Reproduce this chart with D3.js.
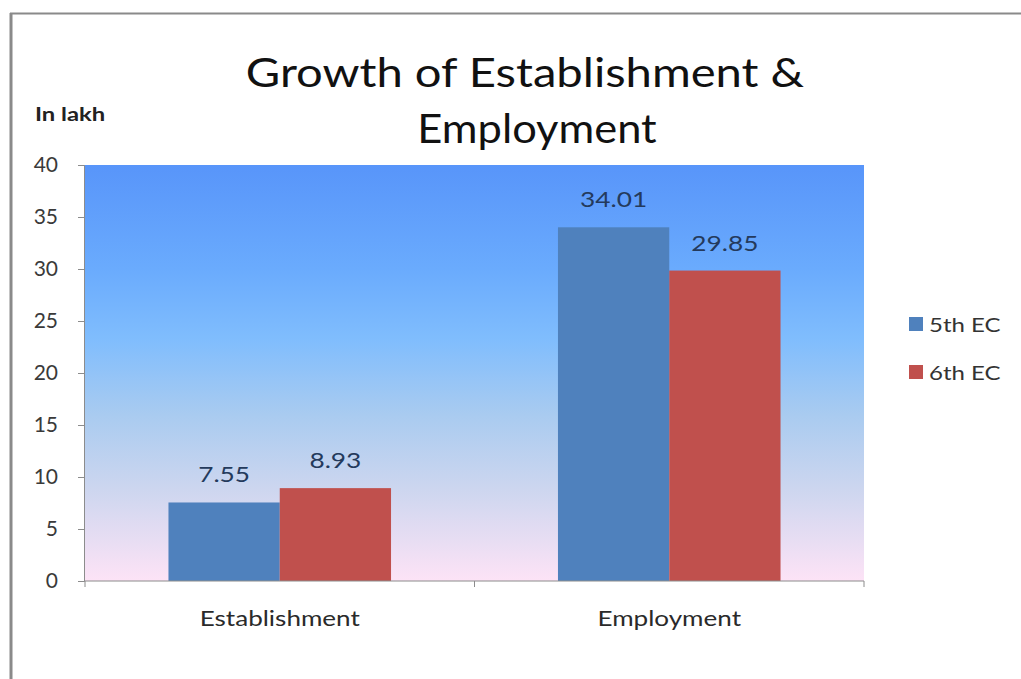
<!DOCTYPE html>
<html>
<head>
<meta charset="utf-8">
<script src="https://cdn.jsdelivr.net/npm/d3@7"></script>
<style>
  body { margin: 0; background: #fff; }
  text { font-family: Lato, "Noto Sans", sans-serif; }
</style>
</head>
<body>
<script>
const wdth = 1021;
const hght = 679;

const categories = ["Establishment", "Employment"];
const seriesNames = ["5th EC", "6th EC"];
const ec5Values = [7.55, 34.01];
const ec6Values = [8.93, 29.85];
const yTicks = [0, 5, 10, 15, 20, 25, 30, 35, 40];
const seriesColors = ["#4f81bd", "#c0504d"];

const plot = { left: 85, right: 864, top: 165, bottom: 581 };

const rows = categories.map((c, i) => ({
  category: c,
  values: [
    { name: seriesNames[0], value: ec5Values[i] },
    { name: seriesNames[1], value: ec6Values[i] }
  ]
}));

// the original picture is a bit wider than its font, so stretch text sideways
function stretch(sel, k) {
  sel.each(function () {
    const w = this.getComputedTextLength();
    d3.select(this).attr("textLength", w * k).attr("lengthAdjust", "spacingAndGlyphs");
  });
}

const svg = d3.select("body").append("svg")
  .attr("width", wdth)
  .attr("height", hght);

// frame (top + left edge of the original picture)
svg.append("line").attr("x1", 10).attr("x2", wdth).attr("y1", 13.5).attr("y2", 13.5)
  .attr("stroke", "#8a8a8a").attr("stroke-width", 2);
svg.append("line").attr("x1", 11).attr("x2", 11).attr("y1", 13).attr("y2", hght)
  .attr("stroke", "#8a8a8a").attr("stroke-width", 3);

const defs = svg.append("defs");
const grad = defs.append("linearGradient").attr("id", "bg")
  .attr("x1", 0).attr("y1", 0).attr("x2", 0).attr("y2", 1);
[
  ["0%", "#5895fa"], ["25%", "#6aabfd"], ["42%", "#80bdfd"],
  ["60%", "#a9cbf0"], ["78%", "#cdd6ef"], ["100%", "#fde3f6"]
].forEach(s => grad.append("stop").attr("offset", s[0]).attr("stop-color", s[1]));

const x0 = d3.scaleBand().domain(categories).range([plot.left, plot.right]);
const bw = x0.bandwidth();
const x1 = d3.scaleBand().domain(seriesNames).range([bw * 0.2143, bw * 0.7857]);
const y = d3.scaleLinear().domain([0, 40]).range([plot.bottom, plot.top]);

svg.append("rect")
  .attr("x", plot.left - 1).attr("y", plot.top)
  .attr("width", plot.right - plot.left + 1).attr("height", plot.bottom - plot.top)
  .attr("fill", "url(#bg)");

// bars
const groups = svg.selectAll("g.grp").data(rows).enter().append("g")
  .attr("class", "grp")
  .attr("transform", d => "translate(" + x0(d.category) + ",0)");

groups.selectAll("rect").data(d => d.values).enter().append("rect")
  .attr("x", d => x1(d.name))
  .attr("y", d => y(d.value))
  .attr("width", x1.bandwidth())
  .attr("height", d => y(0) - y(d.value))
  .attr("fill", (d, i) => seriesColors[i]);

groups.selectAll("text").data(d => d.values).enter().append("text")
  .attr("x", d => x1(d.name) + x1.bandwidth() / 2)
  .attr("y", d => y(d.value) - 20)
  .attr("text-anchor", "middle")
  .attr("font-size", 21)
  .attr("fill", "#243a5c")
  .text(d => d.value.toFixed(2))
  .call(stretch, 1.25);

// y axis
const yAxis = svg.append("g")
  .attr("transform", "translate(" + (plot.left - 1) + ",0)")
  .call(d3.axisLeft(y).tickValues(yTicks).tickSize(6).tickPadding(20));
yAxis.select(".domain").attr("stroke", "#8c8c8c");
yAxis.selectAll(".tick line").attr("stroke", "#8c8c8c");
yAxis.selectAll(".tick text").attr("font-size", 21).attr("fill", "#3a3a3a")
  .attr("font-family", "Lato, 'Noto Sans', sans-serif");

// x axis
const xAxis = svg.append("g")
  .attr("transform", "translate(0," + plot.bottom + ")")
  .call(d3.axisBottom(x0).tickSize(0).tickPadding(30));
xAxis.select(".domain").attr("stroke", "#8c8c8c").attr("d", "M" + (plot.left - 1) + ",0H" + plot.right);
xAxis.selectAll(".tick text").attr("font-size", 21).attr("fill", "#2a2a2a")
  .attr("font-family", "Lato, 'Noto Sans', sans-serif")
  .call(stretch, 1.24);
const bounds = categories.map(c => x0(c)).concat([plot.right]);
xAxis.selectAll("line.bound").data(bounds).enter().append("line")
  .attr("class", "bound")
  .attr("x1", d => d).attr("x2", d => d)
  .attr("y1", 0).attr("y2", 6)
  .attr("stroke", "#8c8c8c");

// title
const title = svg.append("text")
  .attr("text-anchor", "middle")
  .attr("font-size", 41).attr("fill", "#111");
title.append("tspan").attr("x", 525).attr("y", 87).text("Growth of Establishment &")
  .call(stretch, 1.15);
title.append("tspan").attr("x", 537).attr("y", 143).text("Employment")
  .call(stretch, 1.06);

svg.append("text")
  .attr("x", 35).attr("y", 121)
  .attr("font-size", 19).attr("font-weight", "bold").attr("fill", "#222")
  .text("In lakh")
  .call(stretch, 1.25);

// legend
const legend = svg.append("g").attr("transform", "translate(909,317)");
legend.selectAll("rect").data(seriesNames).enter().append("rect")
  .attr("x", 0).attr("y", (d, i) => i * 48)
  .attr("width", 14).attr("height", 14)
  .attr("fill", (d, i) => seriesColors[i]);
legend.selectAll("text").data(seriesNames).enter().append("text")
  .attr("x", 20).attr("y", (d, i) => i * 48 + 15)
  .attr("font-size", 20).attr("fill", "#333")
  .text(d => d)
  .call(stretch, 1.2);
</script>
</body>
</html>
